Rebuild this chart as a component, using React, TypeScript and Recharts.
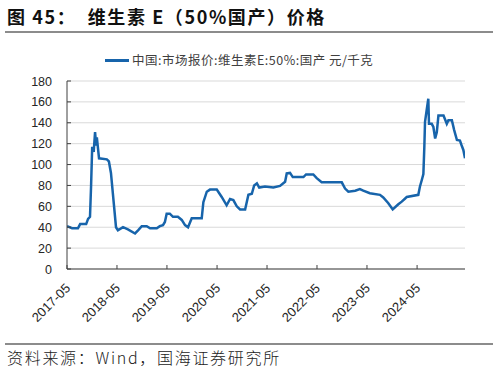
import React from 'react';
import { LineChart, Line, XAxis, YAxis, CartesianGrid } from 'recharts';

const dates = [
  '2017-05-01','2017-06-07','2017-07-20','2017-08-05','2017-09-18','2017-10-02','2017-10-16','2017-10-24',
  '2017-11-01','2017-11-12','2017-11-22','2017-11-30','2017-12-05','2017-12-21','2018-02-16','2018-03-03',
  '2018-03-18','2018-04-24','2018-05-08','2018-06-14','2018-07-20','2018-09-10','2018-10-02','2018-10-29',
  '2018-12-04','2018-12-29','2019-02-16','2019-03-10','2019-04-02','2019-04-16','2019-04-29','2019-05-22',
  '2019-06-14','2019-07-20','2019-08-17','2019-09-10','2019-10-02','2019-10-29','2020-01-10','2020-01-22',
  '2020-02-16','2020-03-10','2020-04-29','2020-06-04','2020-07-10','2020-08-04','2020-08-28','2020-09-22',
  '2020-10-16','2020-11-22','2020-12-16','2021-01-10','2021-01-27','2021-02-16','2021-03-05','2021-04-16',
  '2021-06-16','2021-08-04','2021-09-10','2021-09-22','2021-10-16','2021-11-05','2022-01-22','2022-02-10',
  '2022-04-04','2022-04-29','2022-06-04','2022-10-29','2022-11-22','2022-12-16','2023-02-04','2023-03-10',
  '2023-04-04','2023-05-22','2023-08-04','2023-08-28','2023-10-04','2023-11-05','2023-12-16','2024-01-10',
  '2024-02-04','2024-02-16','2024-05-10','2024-05-22','2024-06-04','2024-06-16','2024-06-23','2024-06-28',
  '2024-07-10','2024-07-22','2024-07-27','2024-08-16','2024-08-28','2024-09-10','2024-09-22','2024-10-04',
  '2024-11-10','2024-12-04','2024-12-16','2025-01-10','2025-01-27','2025-02-16','2025-03-10','2025-03-22',
  '2025-04-04','2025-04-16',
];

const prices = [
  41, 39, 39, 43, 43, 48, 50, 80,
  117, 112, 131, 118, 126, 106, 105, 103,
  92, 40, 37, 40, 38, 34, 37, 41,
  41, 39, 39, 41, 42, 45, 53, 53,
  50, 50, 47, 42, 40, 48.5, 48.5, 64,
  74, 76, 76, 69, 61, 67, 66, 60,
  57, 57, 71, 72, 80, 82, 78, 79,
  78, 79.5, 83.5, 91.5, 92, 88, 88, 90.5,
  90.5, 87, 83, 83, 77, 74, 75, 76.5,
  75, 72.5, 71, 68.5, 63, 57, 62, 64.5,
  67.5, 69, 71, 79, 85, 91, 117, 141,
  152, 163, 139, 139, 136, 125, 131, 147,
  147, 139, 142.5, 142.5, 133, 123.5, 123, 118.5,
  114, 106,
];

const xTickLabels = ['2017-05','2018-05','2019-05','2020-05','2021-05','2022-05','2023-05','2024-05'];
const yTicks = [0, 20, 40, 60, 80, 100, 120, 140, 160, 180];

const title = '图 45：  维生素 E（50%国产）价格';
const legendLabel = '中国:市场报价:维生素E:50%:国产 元/千克';
const source = '资料来源：Wind，国海证券研究所';

const data = dates.map((d, i) => ({ t: Date.parse(d), v: prices[i] }));
const xTicks = xTickLabels.map((s) => Date.parse(s + '-01'));
const labelMap: Record<number, string> = {};
xTickLabels.forEach((s, i) => { labelMap[xTicks[i]] = s; });

const AXIS = '#404040';
const BLUE = '#1764ab';

const XTick = (props: any) => {
  const { x, y, payload } = props;
  const label = labelMap[payload.value] ?? '';
  const ax = x + 4;
  const ay = y + 20;
  return (
    <g>
      <line x1={x} y1={y} x2={x} y2={y - 4} stroke={AXIS} strokeWidth={1} />
      <text
        x={ax}
        y={ay}
        transform={`rotate(-45 ${ax} ${ay})`}
        textAnchor="end"
        fontSize={13}
        fill="#262626"
        fontFamily="Liberation Sans, Arial, sans-serif"
      >
        {label}
      </text>
    </g>
  );
};

const YTick = (props: any) => {
  const { x, y, payload } = props;
  return (
    <g>
      <line x1={x} y1={y} x2={x + 4} y2={y} stroke={AXIS} strokeWidth={1} />
      <text
        x={x - 15}
        y={y + 4.5}
        textAnchor="end"
        fontSize={12.5}
        fill="#262626"
        fontFamily="Liberation Sans, Arial, sans-serif"
      >
        {payload.value}
      </text>
    </g>
  );
};

export default function App() {
  return (
    <div style={{ position: 'absolute', left: 0, top: 0, width: 498, height: 372, background: '#fff', overflow: 'hidden' }}>
      <div
        style={{
          position: 'absolute', left: 7, top: 4, fontSize: 18, fontWeight: 'bold', letterSpacing: 1.6,
          fontFamily: '"Noto Sans CJK SC", sans-serif', color: '#111', whiteSpace: 'pre', lineHeight: '24px',
        }}
      >
        {title}
      </div>
      <div style={{ position: 'absolute', left: 5, top: 31, width: 488, height: 2, background: '#8c8c8c' }} />
      <div style={{ position: 'absolute', left: 105, top: 59, width: 24, height: 3, background: BLUE }} />
      <div
        style={{
          position: 'absolute', left: 132, top: 52, fontSize: 12.5, letterSpacing: 0.5,
          fontFamily: '"Noto Sans CJK SC", sans-serif', color: '#404040', whiteSpace: 'pre', lineHeight: '16px',
        }}
      >
        {legendLabel}
      </div>
      <div style={{ position: 'absolute', left: 0, top: 0 }}>
        <LineChart width={498} height={372} data={data} margin={{ top: 81, right: 33, bottom: 0, left: 0 }}>
          <CartesianGrid vertical={false} stroke="#d9d9d9" strokeWidth={1} />
          <XAxis
            dataKey="t"
            type="number"
            domain={[data[0].t, data[data.length - 1].t]}
            ticks={xTicks}
            tick={<XTick />}
            tickLine={false}
            tickSize={0}
            tickMargin={0}
            height={103}
            stroke={AXIS}
            interval={0}
            allowDataOverflow
          />
          <YAxis
            type="number"
            domain={[0, 180]}
            ticks={yTicks}
            tick={<YTick />}
            tickLine={false}
            tickSize={0}
            tickMargin={0}
            width={67}
            stroke={AXIS}
            interval={0}
          />
          <Line
            type="linear"
            dataKey="v"
            stroke={BLUE}
            strokeWidth={2.5}
            dot={false}
            isAnimationActive={false}
          />
        </LineChart>
      </div>
      <div style={{ position: 'absolute', left: 5, top: 343, width: 488, height: 2, background: '#8c8c8c' }} />
      <div
        style={{
          position: 'absolute', left: 7, top: 346, fontSize: 16, letterSpacing: 1.7,
          fontFamily: '"Noto Sans CJK SC", sans-serif', fontWeight: 300, color: '#222', whiteSpace: 'pre', lineHeight: '22px',
        }}
      >
        {source}
      </div>
    </div>
  );
}
